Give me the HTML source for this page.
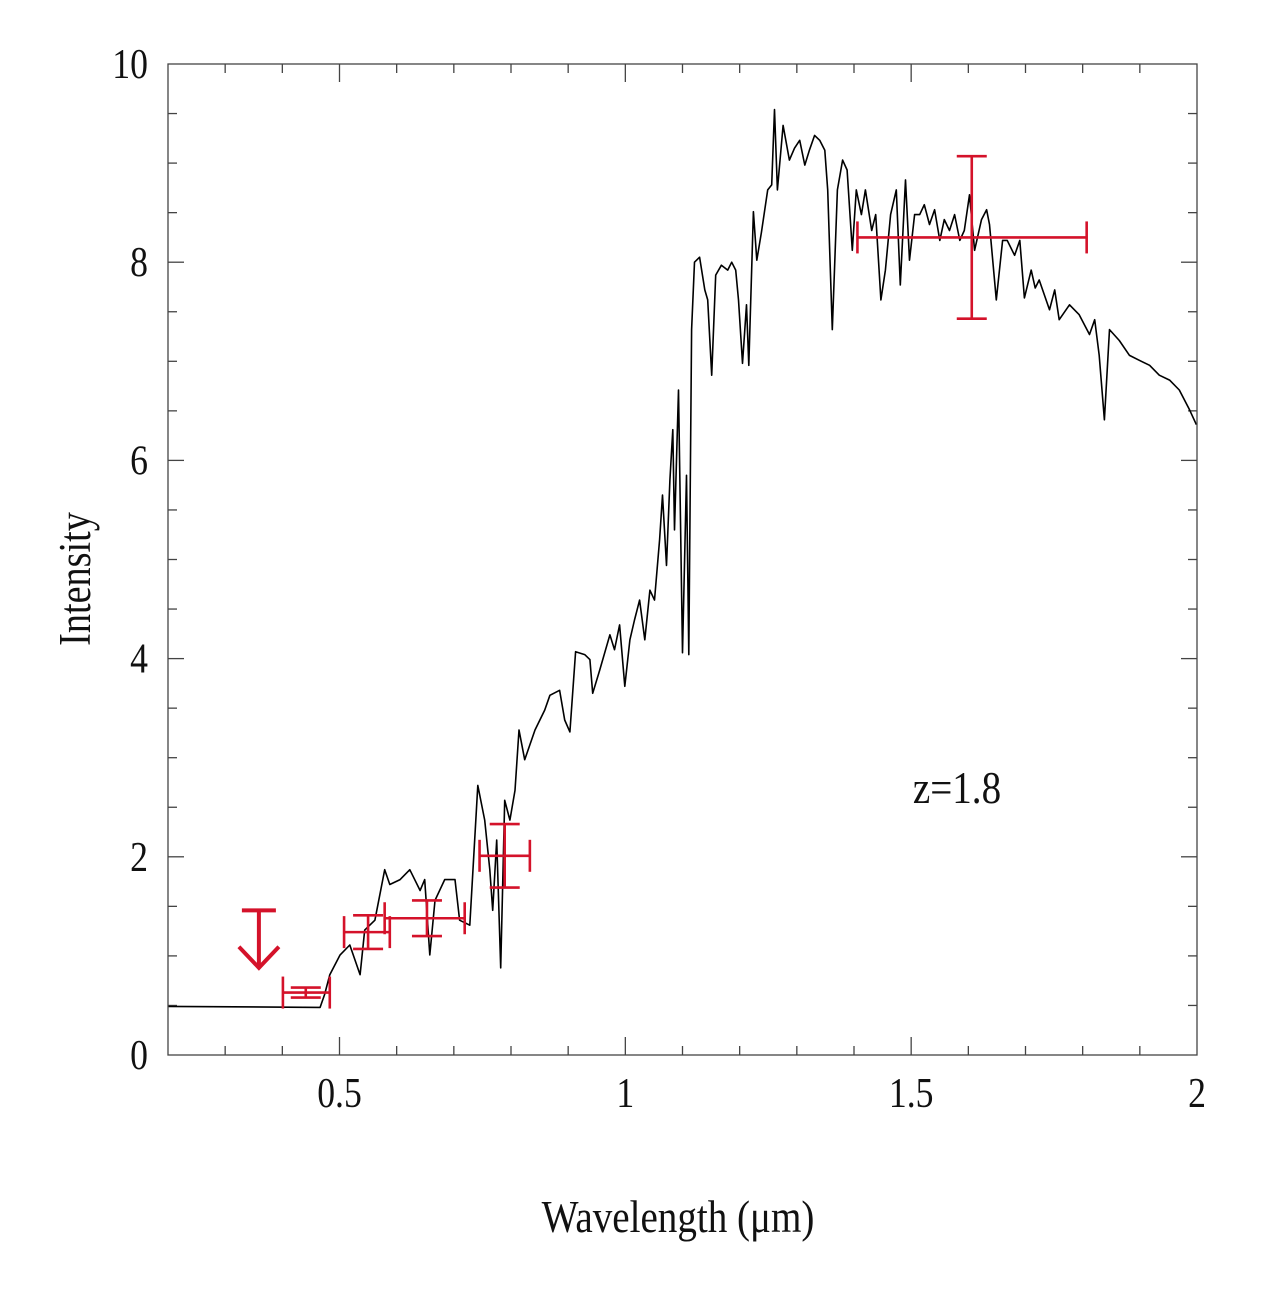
<!DOCTYPE html>
<html><head><meta charset="utf-8"><style>
html,body{margin:0;padding:0;background:#fff;}
svg{display:block;}
text{font-family:"Liberation Serif",serif;fill:#111;}
</style></head><body>
<svg id="chart" width="1280" height="1290" viewBox="0 0 1280 1290" xmlns="http://www.w3.org/2000/svg">
<g id="ticks"></g>
<path id="spec" fill="none" stroke="#000" stroke-width="1.6" stroke-linejoin="round"></path>
<g id="errs"></g>
<g id="limit"></g>
<rect x="168" y="64" width="1029" height="991" fill="none" stroke="#444" stroke-width="1.3"/>
<g id="labels"></g>
<text transform="translate(90,579) rotate(-90) scale(0.85,1)" text-anchor="middle" font-size="45">Intensity</text>
<text transform="translate(678,1232) scale(0.85,1)" text-anchor="middle" font-size="46">Wavelength (μm)</text>
<text transform="translate(957,803) scale(0.85,1)" text-anchor="middle" font-size="46">z=1.8</text>
</svg>
<script>
const specW=[0.200,0.466,0.474,0.483,0.501,0.518,0.536,0.544,0.562,0.579,0.588,0.606,0.623,0.641,0.649,0.658,0.667,0.684,0.702,0.710,0.728,0.742,0.754,0.763,0.768,0.775,0.782,0.789,0.798,0.807,0.814,0.824,0.842,0.859,0.868,0.885,0.894,0.903,0.913,0.929,0.938,0.943,0.955,0.973,0.981,0.990,0.999,1.008,1.016,1.025,1.034,1.043,1.051,1.060,1.065,1.072,1.078,1.083,1.086,1.093,1.100,1.107,1.111,1.116,1.121,1.130,1.139,1.144,1.151,1.158,1.168,1.179,1.186,1.193,1.198,1.205,1.212,1.216,1.224,1.230,1.238,1.249,1.256,1.261,1.266,1.276,1.287,1.296,1.305,1.314,1.322,1.331,1.340,1.349,1.354,1.362,1.371,1.380,1.388,1.397,1.404,1.413,1.420,1.431,1.438,1.447,1.455,1.464,1.474,1.481,1.490,1.497,1.506,1.515,1.523,1.532,1.541,1.550,1.558,1.567,1.576,1.585,1.593,1.602,1.611,1.623,1.632,1.637,1.649,1.660,1.668,1.681,1.690,1.698,1.710,1.717,1.724,1.742,1.751,1.759,1.777,1.794,1.812,1.821,1.829,1.838,1.847,1.864,1.882,1.899,1.917,1.934,1.952,1.969,1.987,1.999];
const specI=[0.49,0.48,0.61,0.81,1.01,1.11,0.81,1.26,1.36,1.87,1.72,1.77,1.87,1.66,1.77,1.01,1.56,1.77,1.77,1.36,1.31,2.72,2.37,1.87,1.46,2.17,0.88,2.57,2.37,2.67,3.28,2.98,3.28,3.48,3.63,3.68,3.38,3.26,4.07,4.04,3.99,3.65,3.88,4.24,4.09,4.34,3.72,4.19,4.39,4.59,4.19,4.69,4.59,5.20,5.65,4.94,5.80,6.31,5.30,6.71,4.06,5.85,4.04,7.32,8.00,8.05,7.72,7.62,6.86,7.87,7.97,7.92,8.00,7.92,7.62,6.98,7.57,6.96,8.51,8.02,8.30,8.73,8.78,9.54,8.73,9.38,9.03,9.15,9.23,8.98,9.13,9.28,9.23,9.13,8.73,7.32,8.73,9.03,8.93,8.12,8.73,8.48,8.73,8.32,8.48,7.62,7.92,8.48,8.73,7.77,8.83,8.02,8.48,8.48,8.58,8.38,8.53,8.22,8.43,8.32,8.48,8.22,8.32,8.68,8.12,8.43,8.53,8.38,7.62,8.22,8.22,8.07,8.22,7.64,7.92,7.74,7.82,7.52,7.72,7.42,7.57,7.47,7.27,7.42,7.06,6.41,7.32,7.21,7.06,7.01,6.96,6.86,6.81,6.71,6.51,6.36];
const ptW=[0.441,0.550,0.653,0.789,1.606];
const ptWlo=[0.401,0.508,0.579,0.745,1.406];
const ptWhi=[0.483,0.588,0.719,0.833,1.807];
const ptI=[0.63,1.24,1.38,2.01,8.25];
const ptIerr=[0.05,0.17,0.18,0.32,0.82];
const limW=[0.359];
const limTop=[1.46];
const limBot=[0.88];
const xTickLabels=["0.5","1","1.5","2"];
const xTickVals=[0.5,1,1.5,2];
const yTickLabels=["0","2","4","6","8","10"];
const yTickVals=[0,2,4,6,8,10];

const X=w=>168+(w-0.2)/1.8*1029;
const Y=v=>1055-v/10*991;
const NS="http://www.w3.org/2000/svg";
function mk(tag,parent,attrs){const e=document.createElementNS(NS,tag);for(const k in attrs)e.setAttribute(k,attrs[k]);parent.appendChild(e);return e;}

let d="";specW.forEach((w,i)=>{d+=(i?"L":"M")+X(w).toFixed(1)+","+Y(specI[i]).toFixed(1);});
document.getElementById("spec").setAttribute("d",d);

const tk=document.getElementById("ticks");
for(let i=3;i<=19;i++){const w=i/10;const major=(i%5===0);const L=major?18:9;const x=X(w);
 const t1=mk("line",tk,{x1:x,x2:x,y1:1055,y2:1055-L,stroke:"#444","stroke-width":1.3});
 
 
 const t2=mk("line",tk,{x1:x,x2:x,y1:64,y2:64+L,stroke:"#444","stroke-width":1.3});
 
 }
for(let i=1;i<20;i++){const v=i/2;const major=(i%4===0);const L=major?16:9;const y=Y(v);
 const t1=mk("line",tk,{x1:168,x2:168+L,y1:y,y2:y,stroke:"#444","stroke-width":1.3});
 
 
 const t2=mk("line",tk,{x1:1197,x2:1197-L,y1:y,y2:y,stroke:"#444","stroke-width":1.3});
 
 }

const lb=document.getElementById("labels");
xTickVals.forEach((v,i)=>{const t=mk("text",lb,{transform:`translate(${X(v)},1107) scale(0.85,1)`,"text-anchor":"middle","font-size":42});
 t.textContent=xTickLabels[i];
 
 });
yTickVals.forEach((v,i)=>{const t=mk("text",lb,{transform:`translate(148,${Y(v)+14}) scale(0.85,1)`,"text-anchor":"end","font-size":42});
 t.textContent=yTickLabels[i];
 
 });

const eg=document.getElementById("errs");const RED="#d4122a";
ptW.forEach((w,i)=>{const g=mk("g",eg,{stroke:RED,"stroke-width":2.6});
 
 
 const x=X(w),y=Y(ptI[i]),x0=X(ptWlo[i]),x1=X(ptWhi[i]),yt=Y(ptI[i]+ptIerr[i]),yb=Y(ptI[i]-ptIerr[i]);
 mk("line",g,{x1:x0,x2:x1,y1:y,y2:y});
 mk("line",g,{x1:x0,x2:x0,y1:y-16,y2:y+16});
 mk("line",g,{x1:x1,x2:x1,y1:y-16,y2:y+16});
 mk("line",g,{x1:x,x2:x,y1:yt,y2:yb});
 mk("line",g,{x1:x-15,x2:x+15,y1:yt,y2:yt});
 mk("line",g,{x1:x-15,x2:x+15,y1:yb,y2:yb});});

const lg=document.getElementById("limit");
limW.forEach((w,i)=>{const g=mk("g",lg,{stroke:RED,"stroke-width":4,fill:"none"});
 
 
 const x=X(w),yt=Y(limTop[i]),yb=Y(limBot[i]);
 mk("line",g,{x1:x-17,x2:x+17,y1:yt,y2:yt});
 mk("line",g,{x1:x,x2:x,y1:yt,y2:yb});
 mk("polyline",g,{points:`${x-20},${yb-21} ${x},${yb} ${x+20},${yb-21}`});});
</script>
</body></html>
